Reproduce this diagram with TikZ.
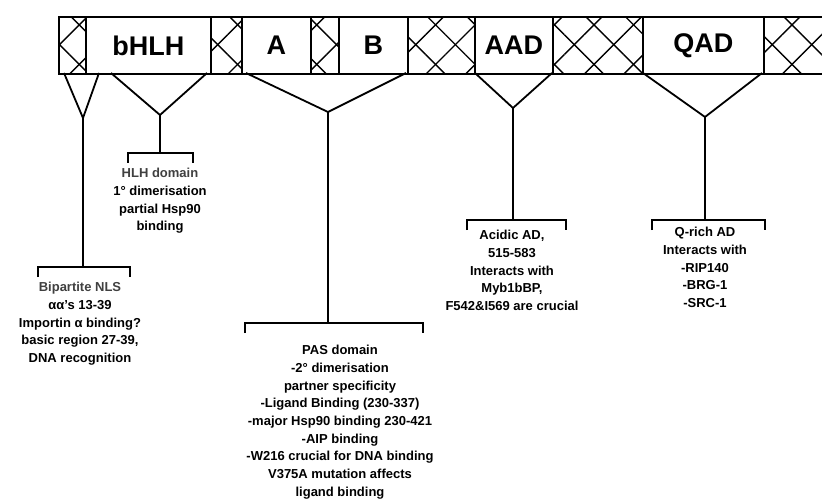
\documentclass[tikz,border=0pt]{standalone}
\usepackage{fontspec}
\setmainfont{Liberation Sans}
\usetikzlibrary{patterns.meta,positioning,calc}

\begin{document}
\begin{tikzpicture}[x=1pt, y=-1pt,
  seg/.style={draw, line width=1.8pt, minimum height=57pt, inner sep=0pt, anchor=north west,
              font=\fontsize{27}{27}\selectfont\bfseries},
  hatch/.style={seg,
              postaction={pattern={Lines[angle=45, distance=28pt, line width=1.4pt]}},
              postaction={pattern={Lines[angle=-45, distance=28pt, line width=1.4pt]}}},
  leg/.style={line width=1.8pt},
  tick/.style={line width=1.6pt},
  note/.style={anchor=north, align=center, inner sep=0pt,
               font=\fontsize{13}{17.7}\selectfont\bfseries},
  dim/.style={black!60}
]
\useasboundingbox (0,0) rectangle (822,500);
\clip (0,0) rectangle (822,500);

\node[hatch, minimum width=27pt]  (h1)   at (58,16)  {};
\node[seg,   minimum width=125pt] (bhlh) at (85,16)  {bHLH};
\node[hatch, minimum width=31pt]  (h2)   at (210,16) {};
\node[seg,   minimum width=69pt]  (pasA) at (241,16) {A};
\node[hatch, minimum width=28pt]  (h3)   at (310,16) {};
\node[seg,   minimum width=69pt]  (pasB) at (338,16) {B};
\node[hatch, minimum width=67pt]  (h4)   at (407,16) {};
\node[seg,   minimum width=78pt]  (aad)  at (474,16) {AAD};
\node[hatch, minimum width=90pt]  (h5)   at (552,16) {};
\node[seg,   minimum width=121pt] (qad)  at (642,16) {QAD};
\node[hatch, minimum width=80pt]  (h6)   at (763,16) {};

\coordinate (nlsL) at (64,73);   \coordinate (nlsR) at (99,73);
\coordinate (nlsV) at (83,118);  \coordinate (nlsJ) at (83,267);
\coordinate (nlsBL) at (38,277); \coordinate (nlsBR) at (130,277);

\coordinate (hlhL) at (111,73);  \coordinate (hlhR) at (207,73);
\coordinate (hlhV) at (160,115); \coordinate (hlhJ) at (160,153);
\coordinate (hlhBL) at (128,163); \coordinate (hlhBR) at (193,163);

\coordinate (pasL) at (246,73);  \coordinate (pasR) at (406,73);
\coordinate (pasV) at (328,112); \coordinate (pasJ) at (328,323);
\coordinate (pasBL) at (245,333); \coordinate (pasBR) at (423,333);

\coordinate (aadL) at (475,73);  \coordinate (aadR) at (552,73);
\coordinate (aadV) at (513,108); \coordinate (aadJ) at (513,220);
\coordinate (aadBL) at (467,230); \coordinate (aadBR) at (566,230);

\coordinate (qadL) at (643,73);  \coordinate (qadR) at (762,73);
\coordinate (qadV) at (705,117); \coordinate (qadJ) at (705,220);
\coordinate (qadBL) at (652,230); \coordinate (qadBR) at (765,230);

\draw[leg] (nlsL) -- (nlsV) -- (nlsR);
\draw[leg] (nlsV) -- (nlsJ);
\draw[tick] (nlsBL) |- (nlsJ) -| (nlsBR);

\draw[leg] (hlhL) -- (hlhV) -- (hlhR);
\draw[leg] (hlhV) -- (hlhJ);
\draw[tick] (hlhBL) |- (hlhJ) -| (hlhBR);

\draw[leg] (pasL) -- (pasV) -- (pasR);
\draw[leg] (pasV) -- (pasJ);
\draw[tick] (pasBL) |- (pasJ) -| (pasBR);

\draw[leg] (aadL) -- (aadV) -- (aadR);
\draw[leg] (aadV) -- (aadJ);
\draw[tick] (aadBL) |- (aadJ) -| (aadBR);

\draw[leg] (qadL) -- (qadV) -- (qadR);
\draw[leg] (qadV) -- (qadJ);
\draw[tick] (qadBL) |- (qadJ) -| (qadBR);

\node[note] (nlsTxt) at (80,282) {{\color{black!75}Bipartite NLS}\\αα's 13-39\\Importin α binding?\\basic region 27-39,\\DNA recognition};
\node[note] (hlhTxt) at (160,168) {{\color{black!75}HLH domain}\\1° dimerisation\\partial Hsp90\\binding};
\node[note] (pasTxt) at (340,345) {PAS domain\\-2° dimerisation\\partner specificity\\-Ligand Binding (230-337)\\-major Hsp90 binding 230-421\\-AIP binding\\-W216 crucial for DNA binding\\V375A mutation affects\\ligand binding};
\node[note] (aadTxt) at (512,230) {Acidic AD,\\515-583\\Interacts with\\Myb1bBP,\\F542\&I569 are crucial};
\node[note] (qadTxt) at (705,227) {Q-rich AD\\Interacts with\\-RIP140\\-BRG-1\\-SRC-1};
\end{tikzpicture}
\end{document}
